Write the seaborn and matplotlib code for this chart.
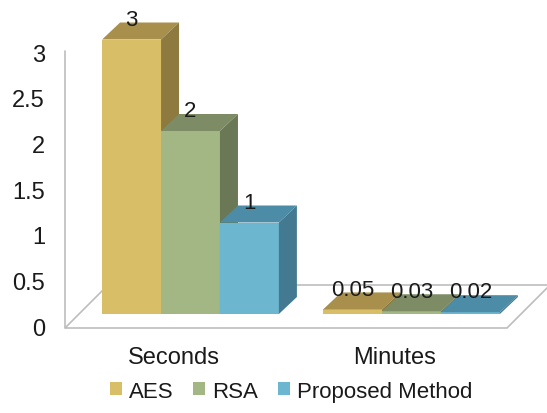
import pandas as pd
import numpy as np
import matplotlib
matplotlib.use("Agg")
import matplotlib.pyplot as plt
import seaborn as sns
from matplotlib.patches import Polygon, Patch

# ---------------- DADOS ----------------
categories = ["Seconds", "Minutes"]
methods = ["AES", "RSA", "Proposed Method"]
aes_values = [3, 0.05]
rsa_values = [2, 0.03]
proposed_values = [1, 0.02]
y_ticks = [0, 0.5, 1, 1.5, 2, 2.5, 3]

# cores: frente, topo, lateral
front_colors = ["#D8BE66", "#A2B784", "#6CB6CF"]
top_colors = ["#A8904C", "#7D8C64", "#4C8CA6"]
side_colors = ["#8E7A3E", "#6A7855", "#437A92"]

df = pd.DataFrame({
    "categoria": categories * 3,
    "metodo": [m for m in methods for _ in categories],
    "valor": aes_values + rsa_values + proposed_values,
})

# ---------------- LAYOUT (pixels) ----------------
W, H = 547, 414
px_x = 221.0      # pixels por unidade de categoria
px_y = 91.5       # pixels por unidade de valor
x0_px = 190.5     # centro da categoria 0
y0_px = 315.0     # linha do zero (a partir do topo)
depth = (18, 17)  # profundidade 3D das barras em pixels

sns.set_style("white")
plt.rcParams["font.family"] = ["Liberation Sans", "DejaVu Sans"]
txt_color = "#1a1a1a"

fig = plt.figure(figsize=(W / 100, H / 100), dpi=100)
ax = fig.add_axes([0, 0, 1, 1])


def px2data(px, py):
    # converte pixel (origem no topo) para coordenadas de dados
    return (px - x0_px) / px_x, (y0_px - py) / px_y


sns.barplot(data=df, x="categoria", y="valor", hue="metodo", order=categories,
            hue_order=methods, palette=front_colors, width=0.8, saturation=1,
            ax=ax, legend=False, zorder=3)

# limites definidos depois do barplot (o seaborn mexe neles)
ax.set_xlim(-x0_px / px_x, (W - x0_px) / px_x)
ax.set_ylim(-(H - y0_px) / px_y, y0_px / px_y)

# chão e parede (linhas cinza)
floor = [px2data(65, 329), px2data(507, 329), px2data(550, 286), px2data(108, 286)]
ax.add_patch(Polygon(floor, closed=True, facecolor="white", edgecolor="#BDBDBD",
                     linewidth=1.2, zorder=1))
ax.plot(*zip(px2data(65, 52), px2data(65, 329)), color="#BDBDBD", lw=1.2, zorder=1)

dx = depth[0] / px_x
dy = depth[1] / px_y

# faces 3D (topo e lateral) para cada barra
bars = []
for i, cont in enumerate(ax.containers):
    for bar in cont:
        bars.append((bar.get_x(), i, bar))
bars.sort(key=lambda b: b[0])
for k, (_, i, bar) in enumerate(bars):
    z = 3 + k
    x, w, h = bar.get_x(), bar.get_width(), bar.get_height()
    bar.set_zorder(z)
    bar.set_edgecolor("none")
    top = [(x, h), (x + w, h), (x + w + dx, h + dy), (x + dx, h + dy)]
    side = [(x + w, 0), (x + w + dx, dy), (x + w + dx, h + dy), (x + w, h)]
    ax.add_patch(Polygon(top, closed=True, facecolor=top_colors[i], edgecolor="none", zorder=z))
    ax.add_patch(Polygon(side, closed=True, facecolor=side_colors[i], edgecolor="none", zorder=z))
    ax.annotate(f"{h:g}", (x + w / 2, h), xytext=(0, 7), textcoords="offset points",
                ha="center", va="bottom", fontsize=16, color=txt_color, zorder=50)

# rótulos do eixo y (na parede)
for t in y_ticks:
    ax.text((45 - x0_px) / px_x, t - 15 / px_y, f"{t:g}", ha="right", va="center",
            fontsize=17, color=txt_color)

# rótulos das categorias
for j, cat in enumerate(categories):
    ax.text(j - 17 / px_x, -43 / px_y, cat, ha="center", va="center",
            fontsize=17, color=txt_color)

ax.set_axis_off()

handles = [Patch(facecolor=c, edgecolor="none") for c in front_colors]
fig.legend(handles, methods, loc="center", bbox_to_anchor=(0.532, 0.053), ncol=3,
           frameon=False, fontsize=16, handlelength=0.55, handleheight=0.55,
           handletextpad=0.3, columnspacing=0.9, labelcolor=txt_color)

fig.savefig("out.png", dpi=100)
